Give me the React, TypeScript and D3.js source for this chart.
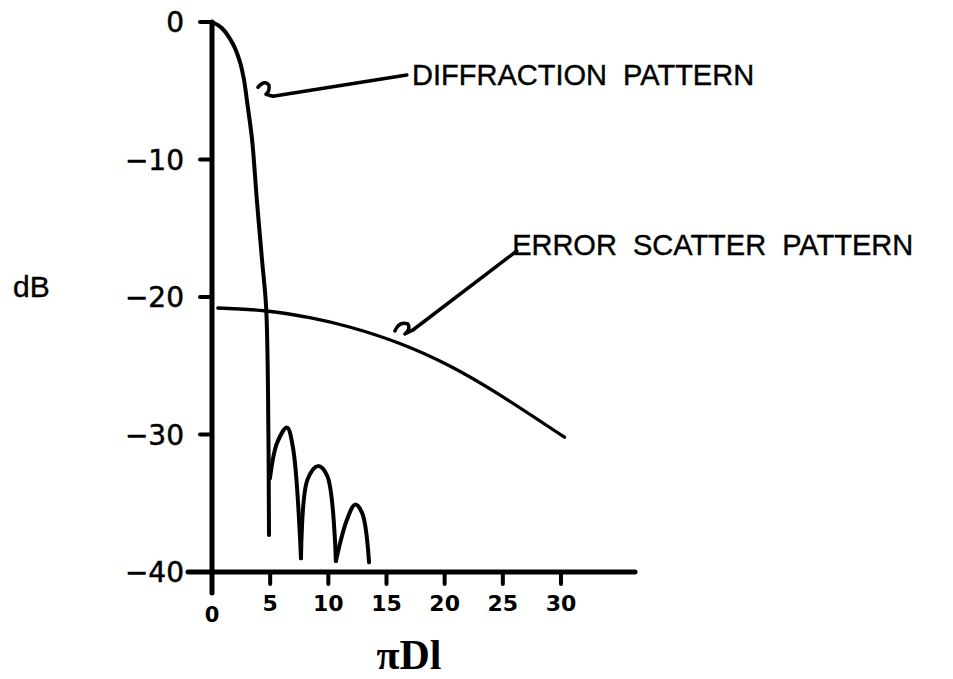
import React, { useRef, useEffect } from 'react';
import * as d3 from 'd3';

// diffraction main lobe (x in units of pi*D*l, y in dB)
const mainLobeX = [0, 0.86, 1.8, 2.4, 2.75, 3.0, 3.45, 3.85, 4.3, 4.65, 4.81, 4.9];
const mainLobeDb = [0, -0.45, -1.6, -2.9, -4.2, -5.7, -8.6, -12.9, -17.3, -20.7, -26.5, -37.3];

// side lobes, split at the nulls
const sideLobeX = [4.98, 5.6, 6.45, 6.95, 7.65, 8.2, 9.1, 9.9, 10.65, 11.6, 12.3, 12.9, 13.5];
const sideLobeDb = [-33.2, -30.6, -29.5, -30.9, -39.0, -33.3, -32.3, -33.0, -39.2, -36.2, -35.1, -35.7, -39.3];
const lobeBreaks = [0, 4, 8, 12];

// error scatter pattern
const errorX = [0.5, 4.5, 8.4, 11.9, 16.2, 20.4, 24.7, 30.3];
const errorDb = [-20.8, -21.0, -21.5, -22.2, -23.4, -25.0, -27.1, -30.2];

const xTicks = [0, 5, 10, 15, 20, 25, 30];
const yTicks = [0, -10, -20, -30, -40];

// annotation: label position and leader line in data units
const annotations = [
  { label: 'DIFFRACTION PATTERN', text: [17.2, -4.58], from: [5.24, -5.4], to: [16.75, -3.85],
    squiggle: 'M-15,-9 Q-8,-17 -4,-11 Q-3,-5 -7,-2 L0,0' },
  { label: 'ERROR SCATTER PATTERN', text: [25.8, -16.95], from: [17.27, -22.4], to: [26.2, -16.65],
    squiggle: 'M-18,1 Q-14,-9 -5,-6 Q-2,-1 -8,4 L0,0' },
];

function App() {
  const svgRef = useRef(null);

  useEffect(() => {
    const svg = d3.select(svgRef.current);
    svg.selectAll('*').remove();

    const x = d3.scaleLinear().domain([0, 30]).range([212, 561]);
    const y = d3.scaleLinear().domain([-40, 0]).range([572, 22]);

    const ink = '#000';

    // axes
    svg.append('line')
      .attr('x1', x(0)).attr('x2', x(0))
      .attr('y1', y(0)).attr('y2', y(-40) + 21)
      .attr('stroke', ink).attr('stroke-width', 5).attr('stroke-linecap', 'round');
    svg.append('line')
      .attr('x1', x(0) - 24).attr('x2', 635)
      .attr('y1', y(-40)).attr('y2', y(-40))
      .attr('stroke', ink).attr('stroke-width', 5).attr('stroke-linecap', 'round');

    svg.selectAll('.ytick')
      .data(yTicks)
      .join('line')
      .attr('class', 'ytick')
      .attr('x1', x(0) - 12).attr('x2', x(0))
      .attr('y1', d => y(d)).attr('y2', d => y(d))
      .attr('stroke', ink).attr('stroke-width', 4).attr('stroke-linecap', 'round');

    svg.selectAll('.ylabel')
      .data(yTicks)
      .join('text')
      .attr('class', 'ylabel')
      .attr('x', 184)
      .attr('y', d => y(d) + 10)
      .attr('text-anchor', 'end')
      .attr('font-family', 'DejaVu Sans')
      .attr('font-size', 28)
      .attr('stroke', ink).attr('stroke-width', 0.5)
      .text(d => (d < 0 ? '\u2212' + Math.abs(d) : String(d)));

    svg.selectAll('.xtick')
      .data(xTicks.filter(d => d > 0))
      .join('line')
      .attr('class', 'xtick')
      .attr('x1', d => x(d)).attr('x2', d => x(d))
      .attr('y1', y(-40)).attr('y2', y(-40) + 12)
      .attr('stroke', ink).attr('stroke-width', 4).attr('stroke-linecap', 'round');

    svg.selectAll('.xlabel')
      .data(xTicks)
      .join('text')
      .attr('class', 'xlabel')
      .attr('x', d => x(d))
      .attr('y', d => (d === 0 ? 622 : 611))
      .attr('text-anchor', 'middle')
      .attr('font-family', 'DejaVu Sans')
      .attr('font-weight', 'bold')
      .attr('font-size', d => (d === 0 ? 21 : 22))
      .text(d => d);

    // curves
    const line = d3.line()
      .x(d => x(d[0]))
      .y(d => y(d[1]));

    const mainPts = mainLobeX.map((v, i) => [v, mainLobeDb[i]]);
    svg.append('path')
      .attr('d', line.curve(d3.curveCatmullRom.alpha(0.5))(mainPts))
      .attr('fill', 'none').attr('stroke', ink).attr('stroke-width', 4)
      .attr('stroke-linecap', 'round').attr('stroke-linejoin', 'round');

    const sidePts = sideLobeX.map((v, i) => [v, sideLobeDb[i]]);
    for (let k = 0; k < lobeBreaks.length - 1; k++) {
      const seg = sidePts.slice(lobeBreaks[k], lobeBreaks[k + 1] + 1);
      svg.append('path')
        .attr('d', line.curve(d3.curveCatmullRom)(seg))
        .attr('fill', 'none').attr('stroke', ink).attr('stroke-width', 4)
        .attr('stroke-linecap', 'round').attr('stroke-linejoin', 'round');
    }

    const errPts = errorX.map((v, i) => [v, errorDb[i]]);
    svg.append('path')
      .attr('d', line.curve(d3.curveNatural)(errPts))
      .attr('fill', 'none').attr('stroke', ink).attr('stroke-width', 3.3)
      .attr('stroke-linecap', 'round');

    // annotations
    annotations.forEach(a => {
      const fx = x(a.from[0]), fy = y(a.from[1]);
      svg.append('path')
        .attr('transform', `translate(${fx},${fy})`)
        .attr('d', a.squiggle)
        .attr('fill', 'none').attr('stroke', ink).attr('stroke-width', 3.5)
        .attr('stroke-linecap', 'round').attr('stroke-linejoin', 'round');
      svg.append('line')
        .attr('x1', fx).attr('y1', fy)
        .attr('x2', x(a.to[0])).attr('y2', y(a.to[1]))
        .attr('stroke', ink).attr('stroke-width', 3.5).attr('stroke-linecap', 'round');
      svg.append('text')
        .attr('x', x(a.text[0])).attr('y', y(a.text[1]))
        .attr('font-family', 'Liberation Sans')
        .attr('font-size', 29)
        .attr('word-spacing', 8)
        .attr('stroke', ink).attr('stroke-width', 0.4)
        .text(a.label);
    });

    svg.append('text')
      .attr('x', 13).attr('y', 297)
      .attr('font-family', 'Liberation Sans')
      .attr('font-size', 30)
      .attr('stroke', ink).attr('stroke-width', 0.4)
      .text('dB');

    svg.append('text')
      .attr('x', 409).attr('y', 669)
      .attr('text-anchor', 'middle')
      .attr('font-family', 'Liberation Serif')
      .attr('font-weight', 'bold')
      .attr('font-size', 42)
      .text('\u03c0Dl');
  }, []);

  return (
    <svg ref={svgRef} width={953} height={679}
      style={{ position: 'absolute', left: 0, top: 0, background: '#fff' }} />
  );
}

export default App;
